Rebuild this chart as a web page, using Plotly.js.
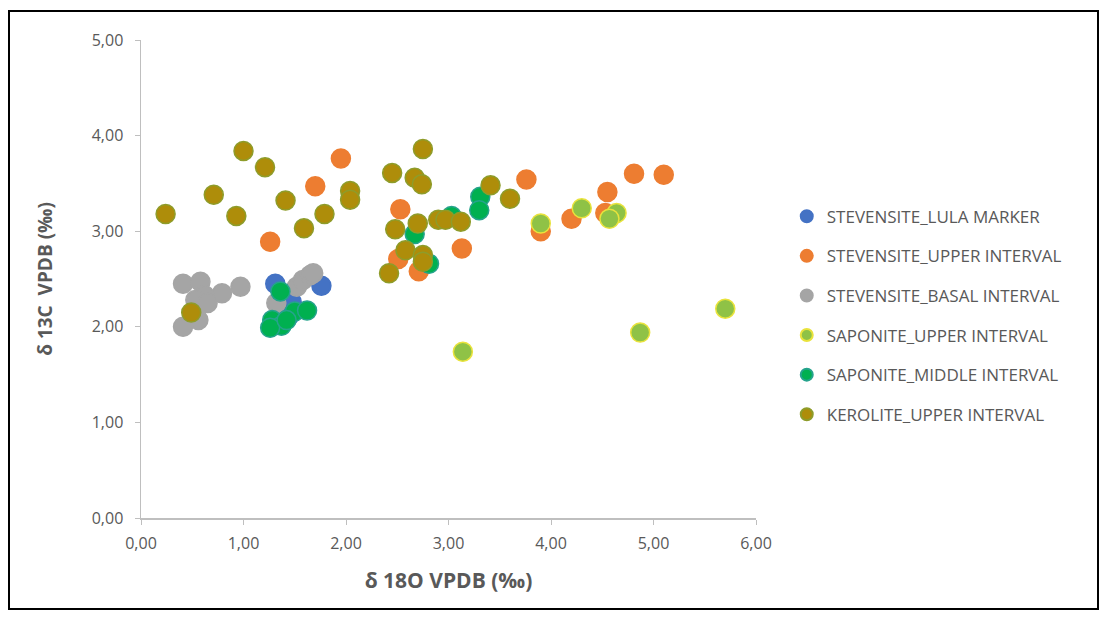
<!DOCTYPE html>
<html>
<head>
<meta charset="utf-8">
<script src="https://cdn.plot.ly/plotly-3.0.1.min.js"></script>
<style>
  html, body { margin: 0; padding: 0; background: #fff; }
  #wrap { position: relative; width: 1106px; height: 620px; }
  #chart { position: absolute; left: 0; top: 0; width: 1106px; height: 620px; }
  #frame { position: absolute; left: 8px; top: 10px; width: 1087px; height: 596px; border: 2px solid #000; pointer-events: none; }
</style>
</head>
<body>
<div id="wrap">
  <div id="chart"></div>
  <div id="frame"></div>
</div>
<script>
// Series names
const seriesNames = [
  "STEVENSITE_LULA MARKER",
  "STEVENSITE_UPPER INTERVAL",
  "STEVENSITE_BASAL INTERVAL",
  "SAPONITE_UPPER INTERVAL",
  "SAPONITE_MIDDLE INTERVAL",
  "KEROLITE_UPPER INTERVAL"
];

// STEVENSITE_LULA MARKER
const lulaX = [1.31, 1.47, 1.76, 1.45];
const lulaY = [2.45, 2.26, 2.43, 2.12];

// STEVENSITE_UPPER INTERVAL
const stevUpperX = [1.26, 1.70, 1.95, 2.53, 2.51, 2.71, 3.13, 3.76, 3.90, 4.20, 4.53, 4.55, 4.81, 5.10];
const stevUpperY = [2.89, 3.47, 3.76, 3.23, 2.71, 2.58, 2.82, 3.54, 3.00, 3.13, 3.19, 3.41, 3.60, 3.59];

// STEVENSITE_BASAL INTERVAL
const stevBasalX = [0.41, 0.58, 0.97, 0.79, 0.62, 0.53, 0.65, 0.56, 0.41, 1.32, 1.52, 1.58, 1.65, 1.68];
const stevBasalY = [2.45, 2.47, 2.42, 2.35, 2.33, 2.28, 2.25, 2.07, 2.00, 2.25, 2.42, 2.49, 2.54, 2.56];

// SAPONITE_UPPER INTERVAL
const sapUpperX = [3.90, 4.30, 4.64, 4.57, 5.70, 4.87, 3.14];
const sapUpperY = [3.08, 3.24, 3.19, 3.13, 2.19, 1.94, 1.74];

// SAPONITE_MIDDLE INTERVAL
const sapMiddleX = [1.36, 1.50, 1.62, 1.28, 1.37, 1.26, 1.42, 2.67, 3.03, 3.31, 3.30, 2.81];
const sapMiddleY = [2.37, 2.16, 2.17, 2.07, 2.01, 1.99, 2.07, 2.97, 3.16, 3.36, 3.22, 2.66];

// KEROLITE_UPPER INTERVAL
const kerX = [0.24, 1.00, 1.21, 0.71, 0.93, 1.41, 2.04, 2.04, 1.79, 1.59, 0.49, 2.75, 2.45, 2.67, 2.74, 2.48, 2.70, 2.90, 2.97, 3.12, 3.41, 3.60, 2.58, 2.75, 2.75, 2.42];
const kerY = [3.18, 3.84, 3.67, 3.38, 3.16, 3.32, 3.42, 3.33, 3.18, 3.03, 2.15, 3.86, 3.61, 3.56, 3.49, 3.02, 3.08, 3.12, 3.12, 3.10, 3.48, 3.34, 2.80, 2.75, 2.68, 2.56];

// Axis ticks
const xTicks = [0, 1, 2, 3, 4, 5, 6];
const yTicks = [0, 1, 2, 3, 4, 5];

const styles = [
  {fill: "#4472C4", line: "#4472C4"},
  {fill: "#ED7D31", line: "#ED7D31"},
  {fill: "#A5A5A5", line: "#A5A5A5"},
  {fill: "#8FC246", line: "#E9E33C"},
  {fill: "#00B050", line: "#25A38C"},
  {fill: "#AE8D0A", line: "#8E9C2A"}
];

const xs = [lulaX, stevUpperX, stevBasalX, sapUpperX, sapMiddleX, kerX];
const ys = [lulaY, stevUpperY, stevBasalY, sapUpperY, sapMiddleY, kerY];

const FONT = "Open Sans, Noto Sans, sans-serif";
const TXT = "#595959";

const traces = seriesNames.map((name, i) => ({
  type: "scatter",
  mode: "markers",
  name: name,
  x: xs[i],
  y: ys[i],
  legendgroup: "g" + i,
  marker: {size: 19, color: styles[i].fill, line: {color: styles[i].line, width: 1.5}},
  hoverinfo: "x+y+name"
}));

const layout = {
  width: 1106,
  height: 620,
  paper_bgcolor: "rgba(0,0,0,0)",
  plot_bgcolor: "#ffffff",
  separators: ", ",
  margin: {l: 141, r: 350, t: 40, b: 102},
  font: {family: FONT, color: TXT, size: 16},
  xaxis: {
    range: [0, 6],
    tickvals: xTicks,
    tickformat: ".2f",
    showgrid: false,
    zeroline: false,
    showline: true,
    linecolor: "#BFBFBF",
    linewidth: 1.5,
    ticks: "outside",
    ticklen: 5,
    tickcolor: "#BFBFBF",
    ticklabelstandoff: 5,
    tickfont: {family: FONT, size: 16, color: TXT},
    title: {text: "δ 18O VPDB (‰)", font: {family: FONT, size: 21, color: TXT, weight: "bold"}, standoff: 20}
  },
  yaxis: {
    range: [0, 5],
    tickvals: yTicks,
    tickformat: ".2f",
    showgrid: false,
    zeroline: false,
    showline: true,
    linecolor: "#BFBFBF",
    linewidth: 1.5,
    ticks: "outside",
    ticklen: 5,
    tickcolor: "#BFBFBF",
    ticklabelstandoff: 8,
    tickfont: {family: FONT, size: 16, color: TXT},
    title: {text: "δ 13C  VPDB (‰)", font: {family: FONT, size: 19, color: TXT, weight: "bold"}, standoff: 34}
  },
  showlegend: true,
  legend: {
    x: 1.05,
    xanchor: "left",
    y: 0.668,
    yanchor: "top",
    font: {family: FONT, size: 17, color: TXT},
    tracegroupgap: 14.5,
    itemsizing: "constant",
    itemwidth: 30,
    bgcolor: "rgba(0,0,0,0)"
  }
};

Plotly.newPlot("chart", traces, layout, {displayModeBar: false, staticPlot: true});
</script>
</body>
</html>
